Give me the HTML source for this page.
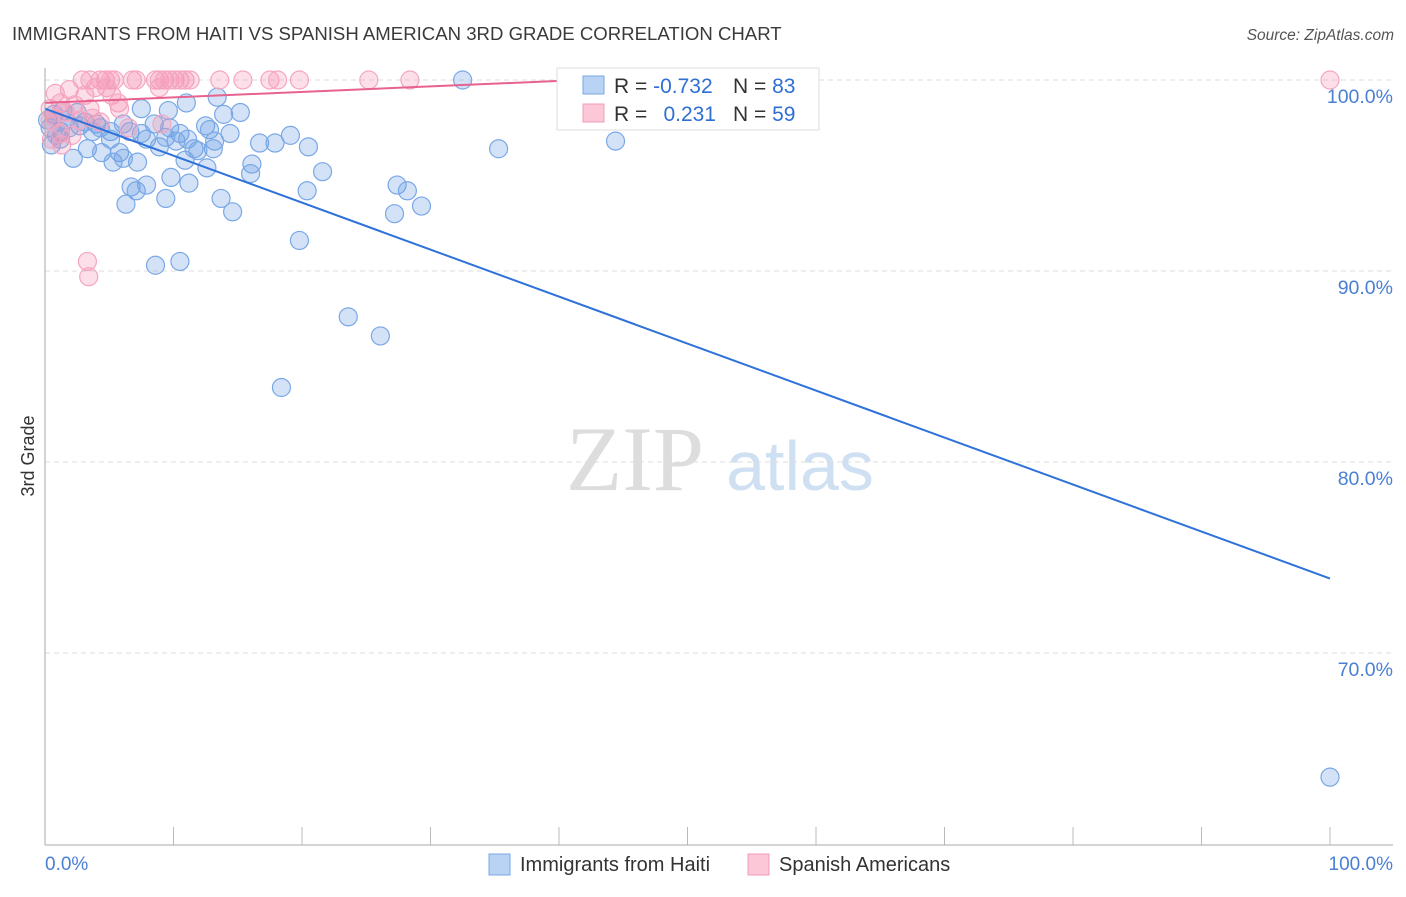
<!DOCTYPE html>
<html><head><meta charset="utf-8"><style>
body{margin:0;background:#fff;font-family:"Liberation Sans",sans-serif}
</style></head><body>
<svg id="c" width="1406" height="892" xmlns="http://www.w3.org/2000/svg">
<text x="12" y="40" font-size="18.6" fill="#3a3a3a">IMMIGRANTS FROM HAITI VS SPANISH AMERICAN 3RD GRADE CORRELATION CHART</text>
<text x="1394" y="40" font-size="15.5" font-style="italic" fill="#555" text-anchor="end">Source: ZipAtlas.com</text>
<text x="34" y="456" font-size="18" fill="#333" text-anchor="middle" transform="rotate(-90 34 456)">3rd Grade</text>
<g><text x="635" y="490" font-family="Liberation Serif,serif" font-size="92" fill="#ddd" text-anchor="middle">ZIP</text><text x="800" y="490" font-size="70" fill="#cfe0f3" text-anchor="middle">atlas</text></g>
<g id="grid"></g><g id="ticks"></g><g id="pts"></g><g id="lines"></g>
<line x1="45" y1="68" x2="45" y2="845" stroke="#aaa"/>
<line x1="45" y1="845" x2="1393" y2="845" stroke="#aaa"/>
<text x="45" y="870" font-size="19" fill="#4a7fd4">0.0%</text>
<text x="1393" y="870" font-size="19" fill="#4a7fd4" text-anchor="end">100.0%</text>
<g>
<rect x="557" y="68" width="262" height="62" fill="#fff" stroke="#ddd"/>
<rect x="583" y="76" width="21" height="18" fill="#b9d3f5" stroke="#7aa7e6"/>
<rect x="583" y="104" width="21" height="18" fill="#fcc7d7" stroke="#f19cb9"/>
<text x="614" y="93" font-size="21" fill="#333">R = <tspan fill="#2f6fd4">-0.732</tspan></text>
<text x="733" y="93" font-size="21" fill="#333">N = <tspan fill="#2f6fd4">83</tspan></text>
<text x="614" y="121" font-size="21" fill="#333">R = </text><text x="716" y="121" font-size="21" fill="#2f6fd4" text-anchor="end">0.231</text>
<text x="733" y="121" font-size="21" fill="#333">N = <tspan fill="#2f6fd4">59</tspan></text>
</g>
<g>
<rect x="489" y="854" width="21" height="21" fill="#b9d3f5" stroke="#7aa7e6"/>
<text x="520" y="871" font-size="20" fill="#333">Immigrants from Haiti</text>
<rect x="748" y="854" width="21" height="21" fill="#fcc7d7" stroke="#f19cb9"/>
<text x="779" y="871" font-size="20" fill="#333">Spanish Americans</text>
</g>
</svg>
<script>
const yTicks=[100,90,80,70];
const yTickLabels=["100.0%","90.0%","80.0%","70.0%"];
const xTicks=[0,10,20,30,40,50,60,70,80,90,100];
const blueX=[32.5,13.4,11.0,15.2,7.5,0.7,1.6,2.7,4.0,5.1,6.1,6.6,8.5,9.7,10.5,12.5,12.8,14.4,16.7,17.9,19.1,20.5,35.3,44.4,1.2,3.3,4.4,5.8,7.9,8.9,10.2,11.6,11.9,13.2,0.5,1.2,2.2,5.3,7.2,6.1,10.9,12.6,16.1,16.0,21.6,6.7,7.1,7.9,9.8,11.2,27.4,28.2,20.4,6.3,9.4,13.7,14.6,27.2,29.3,19.8,8.6,10.5,23.6,26.1,18.4,100,0.2,0.4,1.9,3.7,4.3,3.1,0.9,1.4,2.5,5.1,7.5,9.4,11.1,13.1,13.9,9.6];
const blueY=[100,99.1,98.8,98.3,98.5,98.2,97.9,97.6,97.7,97.3,97.7,97.3,97.7,97.5,97.2,97.6,97.4,97.2,96.7,96.7,97.1,96.5,96.4,96.8,96.9,96.4,96.2,96.2,96.9,96.5,96.8,96.4,96.3,96.8,96.6,97.3,95.9,95.7,95.7,95.9,95.8,95.4,95.6,95.1,95.2,94.4,94.2,94.5,94.9,94.6,94.5,94.2,94.2,93.5,93.8,93.8,93.1,93.0,93.4,91.6,90.3,90.5,87.6,86.6,83.9,63.5,97.9,97.5,97.5,97.3,97.5,97.8,97.1,98.4,98.3,96.9,97.2,97.0,96.9,96.4,98.2,98.4];
const pinkX=[2.9,3.5,4.3,4.7,5.1,5.4,6.8,7.1,8.6,8.9,9.3,9.7,10.1,10.5,10.9,11.3,13.6,15.4,17.5,18.1,19.8,25.2,28.4,100,4.8,8.9,0.8,1.9,3.1,3.9,5.2,5.7,1.2,0.4,2.3,3.5,1.6,0.8,2.7,0.4,1.2,2.1,3.7,0.5,1.3,6.5,9.1,4.3,3.3,3.4,5.8];
const pinkY=[100,100,100,100,100,100,100,100,100,100,100,100,100,100,100,100,100,100,100,100,100,100,100,100,99.6,99.6,99.3,99.5,99.2,99.6,99.2,98.8,98.8,98.5,98.7,98.5,98.3,98.0,97.9,97.9,97.2,97.1,98.0,96.9,96.6,97.5,97.7,97.8,90.5,89.7,98.5];
const blueFit=[98.5,73.9];
const pinkFit=[98.8,100,41.6];
const NS="http://www.w3.org/2000/svg";
const sx=v=>45+v*12.85, sy=v=>80+(100-v)*19.1;
function mk(t,a,p){const e=document.createElementNS(NS,t);for(const k in a)e.setAttribute(k,a[k]);document.getElementById(p).appendChild(e);return e;}
yTicks.forEach((t,i)=>{
 const l=mk('line',{x1:45,x2:1393,y1:sy(t),y2:sy(t),stroke:'#ddd','stroke-dasharray':'5,4'},'grid');
 
 
 const tx=mk('text',{x:1393,y:sy(t)+23,'font-size':19.5,fill:'#4a7fd4','text-anchor':'end'},'grid');
 tx.textContent=yTickLabels[i];
 
 
});
xTicks.forEach(t=>{
 const l=mk('line',{x1:sx(t),x2:sx(t),y1:827,y2:845,stroke:'#bbb'},'ticks');
 
 
});
blueX.forEach((x,i)=>{
 const c=mk('circle',{cx:sx(x),cy:sy(blueY[i]),r:9,fill:'rgba(110,160,230,0.3)',stroke:'#79a8e6','stroke-width':1.2},'pts');
 
 
});
pinkX.forEach((x,i)=>{
 const c=mk('circle',{cx:sx(x),cy:sy(pinkY[i]),r:9,fill:'rgba(245,150,180,0.3)',stroke:'#f4a6c0','stroke-width':1.2},'pts');
 
 
});
const bl=mk('line',{x1:sx(0),y1:sy(blueFit[0]),x2:sx(100),y2:sy(blueFit[1]),stroke:'#2f72d9','stroke-width':2},'lines');


const pl=mk('line',{x1:sx(0),y1:sy(pinkFit[0]),x2:sx(pinkFit[2]),y2:sy(pinkFit[1]),stroke:'#e8628f','stroke-width':2},'lines');


</script>
</body></html>
